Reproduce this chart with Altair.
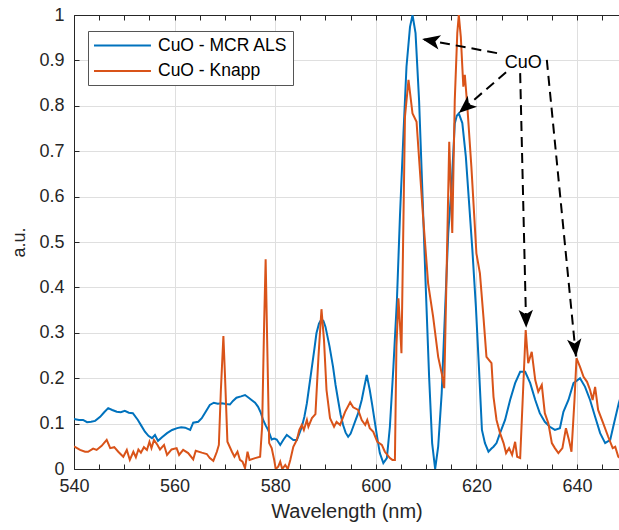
import math
import altair as alt
import pandas as pd

# ---------------- data ----------------
mcr_wl = [540.0, 541.0, 541.8, 542.6, 543.4, 544.2, 545.2, 546.0, 546.8, 547.6, 548.5, 549.3, 550.1, 550.9,
          551.7, 552.7, 553.4, 554.1, 554.8, 555.5, 556.1, 556.7, 557.5, 558.5, 559.5, 560.5, 561.3, 562.1,
          563.1, 563.7, 564.7, 565.4, 566.0, 567.0, 567.8, 568.6, 569.4, 570.2, 571.0, 571.6, 572.3, 573.2,
          574.0, 574.6, 575.3, 576.0, 576.6, 577.1, 577.6, 578.1, 578.6, 579.3, 579.8, 580.3, 581.0, 581.6,
          582.3, 582.9, 583.6, 584.3, 584.8, 585.3, 585.8, 586.3, 586.8, 587.3, 587.8, 588.2, 588.7, 589.2,
          589.6, 590.0, 590.8, 591.5, 592.0, 592.5, 593.0, 593.5, 594.0, 594.5, 595.0, 595.5, 596.0, 596.5,
          597.2, 597.7, 598.2, 598.8, 599.3, 599.8, 600.3, 600.8, 601.5, 602.2, 602.8, 603.5, 604.2, 604.8,
          605.5, 606.1, 606.8, 607.3, 607.9, 608.6, 609.2, 609.9, 610.6, 611.2, 611.8, 612.4, 613.1, 613.8,
          614.4, 615.1, 615.7, 616.1, 616.5, 617.2, 617.9, 618.5, 619.2, 619.9, 620.5, 621.1, 621.7, 622.4,
          623.0, 623.4, 624.0, 624.7, 625.7, 626.7, 627.7, 628.7, 629.7, 630.7, 631.7, 632.6, 633.6, 634.6,
          635.6, 636.6, 637.3, 638.3, 639.3, 640.6, 641.6, 642.6, 643.6, 644.6, 645.6, 646.6, 647.2, 648.3,
          649.0]
mcr_val = [0.110, 0.108, 0.108, 0.103, 0.104, 0.106, 0.115, 0.125, 0.134, 0.130, 0.126, 0.125, 0.128, 0.124,
           0.123, 0.108, 0.095, 0.082, 0.073, 0.068, 0.075, 0.062, 0.070, 0.079, 0.086, 0.090, 0.092, 0.091,
           0.086, 0.102, 0.104, 0.112, 0.123, 0.141, 0.146, 0.144, 0.145, 0.143, 0.142, 0.150, 0.157, 0.160,
           0.163, 0.158, 0.152, 0.146, 0.137, 0.125, 0.108, 0.096, 0.086, 0.065, 0.067, 0.065, 0.053, 0.064,
           0.075, 0.070, 0.064, 0.064, 0.078, 0.093, 0.115, 0.145, 0.185, 0.225, 0.265, 0.299, 0.320, 0.330,
           0.326, 0.313, 0.270, 0.225, 0.185, 0.152, 0.120, 0.097, 0.080, 0.071, 0.078, 0.093, 0.108, 0.123,
           0.152, 0.180, 0.207, 0.174, 0.140, 0.104, 0.068, 0.035, 0.013, 0.024, 0.093, 0.225, 0.372, 0.556,
           0.739, 0.886, 0.974, 1.000, 0.960, 0.813, 0.630, 0.410, 0.203, 0.057, 0.000, 0.049, 0.167, 0.357,
           0.519, 0.629, 0.761, 0.778, 0.783, 0.762, 0.688, 0.593, 0.482, 0.357, 0.225, 0.086, 0.057, 0.038,
           0.045, 0.049, 0.057, 0.079, 0.108, 0.152, 0.189, 0.214, 0.214, 0.189, 0.152, 0.123, 0.104, 0.093,
           0.086, 0.090, 0.126, 0.152, 0.189, 0.200, 0.181, 0.152, 0.115, 0.079, 0.057, 0.064, 0.093, 0.145,
           0.170]

knapp_wl = [540.0, 541.2, 542.2, 542.8, 543.8, 544.5, 545.5, 546.5, 547.2, 548.0, 548.8, 549.8, 550.5, 551.1,
            551.8, 552.3, 552.8, 553.3, 553.9, 554.5, 555.0, 555.4, 555.9, 556.6, 557.1, 557.9, 558.5, 559.4,
            560.4, 560.9, 561.7, 562.7, 563.7, 564.2, 565.4, 566.4, 567.0, 567.7, 568.4, 568.8, 569.2, 569.7,
            570.0, 570.5, 571.4, 571.9, 572.5, 573.0, 573.5, 574.0, 574.5, 574.9, 576.0, 577.0, 577.4, 577.8,
            578.1, 578.4, 578.8, 579.3, 579.8, 580.1, 580.6, 581.0, 581.4, 582.0, 582.5, 583.0, 583.6, 584.3,
            584.8, 585.3, 585.7, 586.3, 586.6, 587.3, 588.0, 588.6, 589.2, 589.7, 590.2, 590.9, 591.7, 592.2,
            592.9, 593.9, 594.9, 595.5, 596.5, 597.2, 597.9, 598.3, 598.8, 599.5, 600.3, 601.2, 601.8, 602.8,
            603.3, 603.8, 604.1, 604.5, 604.8, 605.1, 605.8, 606.5, 607.3, 608.1, 609.4, 610.4, 611.4, 612.4,
            613.1, 613.6, 614.1, 614.6, 615.2, 615.7, 616.2, 616.5, 616.9, 617.4, 617.7, 618.2, 619.0, 620.0,
            620.7, 621.4, 622.0, 623.0, 623.4, 624.0, 624.7, 625.4, 625.9, 626.5, 627.1, 627.7, 628.1, 628.7,
            629.2, 629.8, 630.3, 631.0, 631.7, 632.3, 633.0, 633.6, 634.3, 635.0, 635.6, 636.3, 637.1, 637.8,
            638.4, 638.9, 639.5, 639.9, 640.6, 641.3, 642.0, 642.6, 643.1, 643.6, 644.2, 645.2, 646.2, 647.1,
            647.6, 648.2, 649.0]
knapp_val = [0.050, 0.042, 0.038, 0.038, 0.045, 0.042, 0.051, 0.064, 0.046, 0.048, 0.038, 0.027, 0.042, 0.020,
             0.038, 0.026, 0.043, 0.036, 0.048, 0.042, 0.060, 0.046, 0.064, 0.053, 0.043, 0.053, 0.031, 0.043,
             0.046, 0.031, 0.042, 0.035, 0.021, 0.040, 0.036, 0.033, 0.024, 0.018, 0.038, 0.053, 0.174, 0.293,
             0.211, 0.060, 0.038, 0.027, 0.038, 0.020, 0.016, 0.002, 0.038, 0.020, 0.024, 0.027, 0.093, 0.320,
             0.462, 0.284, 0.057, 0.046, 0.020, 0.000, 0.005, 0.016, 0.000, 0.009, 0.000, 0.020, 0.049, 0.064,
             0.086, 0.097, 0.086, 0.108, 0.093, 0.112, 0.121, 0.247, 0.352, 0.284, 0.174, 0.112, 0.093, 0.104,
             0.097, 0.126, 0.147, 0.136, 0.130, 0.108, 0.097, 0.108, 0.090, 0.082, 0.060, 0.053, 0.038, 0.024,
             0.020, 0.020, 0.270, 0.376, 0.320, 0.255, 0.776, 0.857, 0.783, 0.765, 0.556, 0.409, 0.335, 0.247,
             0.211, 0.178, 0.446, 0.721, 0.520, 0.813, 0.960, 1.000, 0.952, 0.842, 0.868, 0.798, 0.666, 0.475,
             0.431, 0.335, 0.247, 0.233, 0.159, 0.108, 0.079, 0.057, 0.035, 0.046, 0.031, 0.060, 0.027, 0.024,
             0.152, 0.306, 0.233, 0.258, 0.196, 0.170, 0.185, 0.123, 0.101, 0.057, 0.046, 0.035, 0.046, 0.090,
             0.064, 0.038, 0.152, 0.244, 0.225, 0.203, 0.192, 0.174, 0.152, 0.181, 0.130, 0.101, 0.071, 0.046,
             0.049, 0.027, 0.020]

series_names = ["CuO - MCR ALS", "CuO - Knapp"]
series_colors = ["#0072BD", "#D95319"]

x_major = [540, 560, 580, 600, 620, 640]
x_minor = [540 + 5 * i for i in range(22)]
y_major = [round(0.1 * i, 1) for i in range(11)]

ann_label = "CuO"
ann_label_x = [629.3]
ann_label_y = [0.895]
ann_start_x = [624.1, 625.9, 628.7, 634.0]
ann_start_y = [0.916, 0.874, 0.872, 0.901]
ann_tip_x = [609.2, 616.5, 629.9, 639.8]
ann_tip_y = [0.947, 0.784, 0.311, 0.247]

# ---------------- layout ----------------
W, H = 545, 454
XMIN, XMAX = 540, 648.35
FONT = "Liberation Sans"
AX = "#262626"
GRID = "#DFDFDF"

kx = W / (XMAX - XMIN)
ky = H / 1.0
angles = []
for sx, sy, tx, ty in zip(ann_start_x, ann_start_y, ann_tip_x, ann_tip_y):
    dx = (tx - sx) * kx
    dy = -(ty - sy) * ky
    angles.append(math.degrees(math.atan2(dx, -dy)) % 360)

df = pd.concat([
    pd.DataFrame({"wl": mcr_wl, "val": mcr_val, "series": series_names[0], "o": range(len(mcr_wl))}),
    pd.DataFrame({"wl": knapp_wl, "val": knapp_val, "series": series_names[1], "o": range(len(knapp_wl))}),
])
ann = pd.DataFrame({"sx": ann_start_x, "sy": ann_start_y, "tx": ann_tip_x, "ty": ann_tip_y, "ang": angles})
lab = pd.DataFrame({"x": ann_label_x, "y": ann_label_y, "t": [ann_label]})

xs = alt.Scale(domain=[XMIN, XMAX], nice=False, zero=False)
ys = alt.Scale(domain=[0, 1], nice=False, zero=False)
cs = alt.Scale(domain=series_names, range=series_colors)

# legend line symbol: a long horizontal stroke drawn from a small symbol size
legend = alt.Legend(orient="none", legendX=14, legendY=16, title=None,
                    symbolType="M-1,0H5.7", symbolSize=289, symbolStrokeWidth=2,
                    labelFontSize=17.5, labelFont=FONT, labelColor="black",
                    strokeColor="#555555", fillColor="white", padding=5,
                    rowPadding=7.5, labelOffset=46, symbolOpacity=1)

x_main_axis = alt.Axis(orient="bottom", values=x_major, grid=True, gridColor=GRID, ticks=False,
                       domain=True, domainColor=AX, labelFont=FONT, labelFontSize=18, labelColor=AX,
                       labelPadding=8, title="Wavelength (nm)", titleFont=FONT, titleFontSize=20,
                       titleFontWeight="normal", titleColor=AX, titlePadding=6, labelFlush=False)
y_main_axis = alt.Axis(orient="left", values=y_major, grid=True, gridColor=GRID, ticks=False,
                       domain=True, domainColor=AX, labelFont=FONT, labelFontSize=18, labelColor=AX,
                       labelPadding=10, format="~g", title="a.u.", titleFont=FONT, titleFontSize=18,
                       titleFontWeight="normal", titleColor=AX, titlePadding=10, labelFlush=False)

blue = alt.Chart(df).transform_filter(alt.datum.series == series_names[0]).mark_line(
    strokeWidth=2, clip=True).encode(
    x=alt.X("wl:Q", scale=xs, axis=x_main_axis),
    y=alt.Y("val:Q", scale=ys, axis=y_main_axis),
    color=alt.Color("series:N", scale=cs, legend=legend, sort=series_names),
    order="o:Q",
)
orange = alt.Chart(df).transform_filter(alt.datum.series == series_names[1]).mark_line(
    strokeWidth=2, clip=True).encode(
    x=alt.X("wl:Q", scale=xs, axis=None),
    y=alt.Y("val:Q", scale=ys, axis=None),
    color=alt.Color("series:N", scale=cs, legend=legend, sort=series_names),
    order="o:Q",
)


def tick_layer(xaxis, yaxis):
    return alt.Chart(lab).mark_point(opacity=0).encode(
        x=alt.X("x:Q", scale=xs, axis=xaxis),
        y=alt.Y("y:Q", scale=ys, axis=yaxis),
    )


tick_common = dict(domain=False, labels=False, grid=False, ticks=True, tickSize=5, tickColor=AX,
                   title=None, offset=-5)
bottom_ticks = tick_layer(alt.Axis(orient="bottom", values=x_minor, **tick_common), None)
top_ticks = tick_layer(alt.Axis(orient="top", values=x_minor, **tick_common), None)
top_domain = tick_layer(alt.Axis(orient="top", values=x_minor, domain=True, domainColor=AX, labels=False,
                                 grid=False, ticks=False, title=None), None)
left_ticks = tick_layer(None, alt.Axis(orient="left", values=y_major, **tick_common))

lines = alt.Chart(ann).mark_rule(color="black", strokeWidth=2, strokeDash=[10, 6]).encode(
    x=alt.X("sx:Q", scale=xs, axis=None), y=alt.Y("sy:Q", scale=ys, axis=None),
    x2="tx:Q", y2="ty:Q",
)
heads = alt.Chart(ann).mark_point(
    shape="M0,0 L0.8,2 L0,1.5 L-0.8,2 Z", filled=True, color="black", opacity=1, size=324,
    strokeWidth=0).encode(
    x=alt.X("tx:Q", scale=xs, axis=None), y=alt.Y("ty:Q", scale=ys, axis=None),
    angle=alt.Angle("ang:Q", scale=None),
)
text = alt.Chart(lab).mark_text(font=FONT, fontSize=18, color="black", align="center",
                                baseline="middle").encode(
    x=alt.X("x:Q", scale=xs, axis=None), y=alt.Y("y:Q", scale=ys, axis=None), text="t:N",
)

chart = alt.layer(
    blue, orange, bottom_ticks, top_ticks, top_domain, left_ticks, lines, heads, text
).resolve_axis(x="independent", y="independent").resolve_scale(x="shared", y="shared").properties(
    width=W, height=H, autosize=alt.AutoSizeParams(type="none"),
    padding={"left": 74, "top": 15, "right": 0, "bottom": 61}, background="white",
).configure_view(stroke=None)

chart.save("out.html", embed_options={"renderer": "svg", "actions": False})
